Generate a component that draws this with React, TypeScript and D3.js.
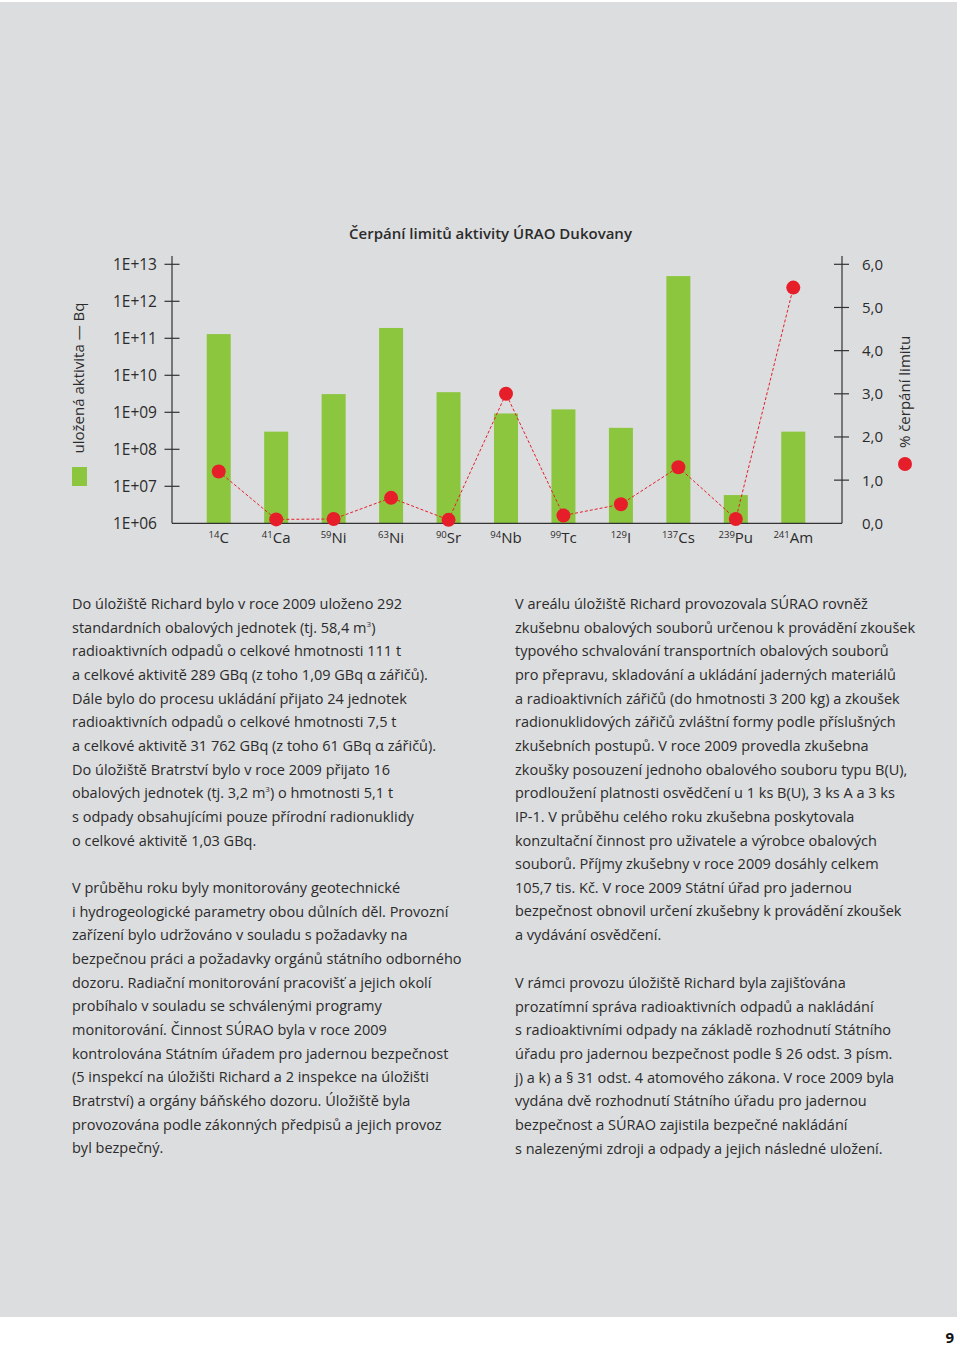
import React from "react";
import * as d3 from "d3";

const categories = ["14C", "41Ca", "59Ni", "63Ni", "90Sr", "94Nb", "99Tc", "129I", "137Cs", "239Pu", "241Am"];
const massNumbers = ["14", "41", "59", "63", "90", "94", "99", "129", "137", "239", "241"];
const elements = ["C", "Ca", "Ni", "Ni", "Sr", "Nb", "Tc", "I", "Cs", "Pu", "Am"];
const activityBq = [1.3e11, 3.0e8, 3.1e9, 1.9e11, 3.5e9, 9.3e8, 1.2e9, 3.8e8, 4.8e12, 5.8e6, 3.0e8];
const limitPct = [1.2, 0.09, 0.1, 0.59, 0.08, 3.0, 0.18, 0.44, 1.3, 0.1, 5.46];
const leftTicks = [1e6, 1e7, 1e8, 1e9, 1e10, 1e11, 1e12, 1e13];
const rightTicks = [0, 1, 2, 3, 4, 5, 6];

const leftText1 = [
  ["Do úložiště Richard bylo v roce 2009 uloženo 292"],
  ["standardních obalových jednotek (tj. 58,4 m", "3", ")"],
  ["radioaktivních odpadů o celkové hmotnosti 111 t"],
  ["a celkové aktivitě 289 GBq (z toho 1,09 GBq α zářičů)."],
  ["Dále bylo do procesu ukládání přijato 24 jednotek"],
  ["radioaktivních odpadů o celkové hmotnosti 7,5 t"],
  ["a celkové aktivitě 31 762 GBq (z toho 61 GBq α zářičů)."],
  ["Do úložiště Bratrství bylo v roce 2009 přijato 16"],
  ["obalových jednotek (tj. 3,2 m", "3", ") o hmotnosti 5,1 t"],
  ["s odpady obsahujícími pouze přírodní radionuklidy"],
  ["o celkové aktivitě 1,03 GBq."],
];
const leftText2 = [
  "V průběhu roku byly monitorovány geotechnické",
  "i hydrogeologické parametry obou důlních děl. Provozní",
  "zařízení bylo udržováno v souladu s požadavky na",
  "bezpečnou práci a požadavky orgánů státního odborného",
  "dozoru. Radiační monitorování pracovišť a jejich okolí",
  "probíhalo v souladu se schválenými programy",
  "monitorování. Činnost SÚRAO byla v roce 2009",
  "kontrolována Státním úřadem pro jadernou bezpečnost",
  "(5 inspekcí na úložišti Richard a 2 inspekce na úložišti",
  "Bratrství) a orgány báňského dozoru. Úložiště byla",
  "provozována podle zákonných předpisů a jejich provoz",
  "byl bezpečný.",
];
const rightText1 = [
  "V areálu úložiště Richard provozovala SÚRAO rovněž",
  "zkušebnu obalových souborů určenou k provádění zkoušek",
  "typového schvalování transportních obalových souborů",
  "pro přepravu, skladování a ukládání jaderných materiálů",
  "a radioaktivních zářičů (do hmotnosti 3 200 kg) a zkoušek",
  "radionuklidových zářičů zvláštní formy podle příslušných",
  "zkušebních postupů. V roce 2009 provedla zkušebna",
  "zkoušky posouzení jednoho obalového souboru typu B(U),",
  "prodloužení platnosti osvědčení u 1 ks B(U), 3 ks A a 3 ks",
  "IP-1. V průběhu celého roku zkušebna poskytovala",
  "konzultační činnost pro uživatele a výrobce obalových",
  "souborů. Příjmy zkušebny v roce 2009 dosáhly celkem",
  "105,7 tis. Kč. V roce 2009 Státní úřad pro jadernou",
  "bezpečnost obnovil určení zkušebny k provádění zkoušek",
  "a vydávání osvědčení.",
];
const rightText2 = [
  "V rámci provozu úložiště Richard byla zajišťována",
  "prozatímní správa radioaktivních odpadů a nakládání",
  "s radioaktivními odpady na základě rozhodnutí Státního",
  "úřadu pro jadernou bezpečnost podle § 26 odst. 3 písm.",
  "j) a k) a § 31 odst. 4 atomového zákona. V roce 2009 byla",
  "vydána dvě rozhodnutí Státního úřadu pro jadernou",
  "bezpečnost a SÚRAO zajistila bezpečné nakládání",
  "s nalezenými zdroji a odpady a jejich následné uložení.",
];

const FONT = "'Open Sans', 'Noto Sans', sans-serif";
const BG = "#dcdddf";
const GREEN = "#8cc63f";
const RED = "#e61e2a";
const TXT = "#2b2b2b";

export default function App() {
  const yL = d3.scaleLog().domain([1e6, 1e13]).range([523.3, 264.3]);
  const yR = d3.scaleLinear().domain([0, 6]).range([523.3, 264.3]);
  const x = d3.scaleBand().domain(categories).range([190, 822]).paddingInner(0.582).paddingOuter(0.291);
  const cx = (c: string) => (x(c) as number) + x.bandwidth() / 2;
  const line = d3
    .line<number>()
    .x((_, i) => cx(categories[i]))
    .y((d) => yR(d));

  const axL = 172;
  const axR = 842;
  const axTop = 256;
  const base = yL(1e6);
  const lh = 23.65;
  const fs = 14.5;

  const renderPara = (lines: (string | string[])[], x0: number, y0: number) =>
    lines.map((ln, i) => {
      const parts = Array.isArray(ln) ? ln : [ln];
      return (
        <text key={i} x={x0} y={y0 + i * lh} fontSize={fs} fill={TXT} fontFamily={FONT}>
          {parts.length === 1 ? (
            parts[0]
          ) : (
            <>
              <tspan>{parts[0]}</tspan>
              <tspan fontSize={8} dy={-6}>{parts[1]}</tspan>
              <tspan dy={6}>{parts[2]}</tspan>
            </>
          )}
        </text>
      );
    });

  return (
    <svg width={960} height={1346} style={{ position: "absolute", left: 0, top: 0, background: "#fff" }}>
      <rect x={0} y={2} width={957} height={1315} fill={BG} />
      <text x={490.5} y={239} textAnchor="middle" fontSize={15} fontWeight={600} fill={TXT} fontFamily={FONT}>
        Čerpání limitů aktivity ÚRAO Dukovany
      </text>

      {/* bars */}
      {categories.map((c, i) => (
        <rect key={c} x={x(c)} y={yL(activityBq[i])} width={x.bandwidth()} height={base - yL(activityBq[i])} fill={GREEN} />
      ))}

      {/* axes */}
      <g stroke="#333" strokeWidth={1.2}>
        <line x1={axL} x2={axL} y1={axTop} y2={base} />
        <line x1={axR} x2={axR} y1={axTop} y2={base} />
        <line x1={axL} x2={axR} y1={base} y2={base} />
        {leftTicks.slice(1).map((t) => (
          <line key={t} x1={axL - 7.5} x2={axL + 7.5} y1={yL(t)} y2={yL(t)} />
        ))}
        {rightTicks.slice(1).map((t) => (
          <line key={t} x1={axR - 8} x2={axR + 7} y1={yR(t)} y2={yR(t)} />
        ))}
      </g>
      {leftTicks.map((t) => (
        <text key={t} x={157} y={yL(t) + 5.5} textAnchor="end" fontSize={15.5} fontWeight={500} fill={TXT} fontFamily={FONT}>
          {"1E+" + String(Math.round(Math.log10(t))).padStart(2, "0")}
        </text>
      ))}
      {rightTicks.map((t) => (
        <text key={t} x={862} y={yR(t) + 5.5} fontSize={15} fontWeight={500} fill={TXT} fontFamily={FONT}>
          {d3.format(".1f")(t).replace(".", ",")}
        </text>
      ))}

      {/* x labels */}
      {categories.map((c, i) => (
        <text key={c} x={cx(c)} y={543} textAnchor="middle" fontSize={15} fontWeight={500} fill={TXT} fontFamily={FONT}>
          <tspan fontSize={9.5} dy={-5}>{massNumbers[i]}</tspan>
          <tspan dy={5}>{elements[i]}</tspan>
        </text>
      ))}

      {/* line + dots */}
      <path d={line(limitPct) || ""} fill="none" stroke={RED} strokeWidth={1} strokeDasharray="3,2" />
      {limitPct.map((v, i) => (
        <circle key={i} cx={cx(categories[i])} cy={yR(v)} r={7} fill={RED} />
      ))}

      {/* axis titles / legend */}
      <text transform="translate(83.5,378) rotate(-90)" textAnchor="middle" fontSize={15} fontWeight={500} fill={TXT} fontFamily={FONT}>
        uložená aktivita — Bq
      </text>
      <rect x={72} y={467} width={15} height={19} fill={GREEN} />
      <text transform="translate(909.5,392) rotate(-90)" textAnchor="middle" fontSize={15} fontWeight={500} fill={TXT} fontFamily={FONT}>
        % čerpání limitu
      </text>
      <circle cx={905} cy={464} r={7} fill={RED} />

      {/* text columns */}
      {renderPara(leftText1, 72, 609)}
      {renderPara(leftText2, 72, 893)}
      {renderPara(rightText1, 515, 609)}
      {renderPara(rightText2, 515, 988)}

      <text x={954} y={1343} textAnchor="end" fontSize={15} fontWeight={700} fill="#111" fontFamily={FONT}>
        9
      </text>
    </svg>
  );
}
